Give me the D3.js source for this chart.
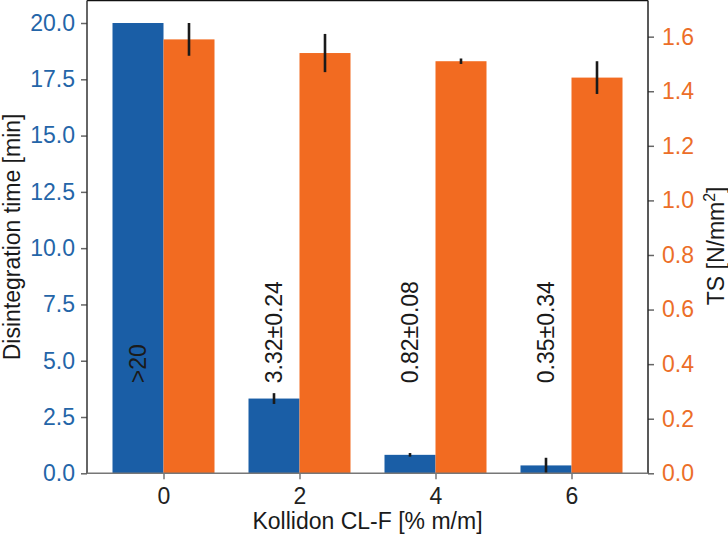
<!DOCTYPE html>
<html><head><meta charset="utf-8">
<script src="https://cdn.jsdelivr.net/npm/d3@7"></script>
<style>
html,body{margin:0;padding:0;background:#fff;}
text{font-family:"Liberation Sans",Arial,sans-serif;}
</style></head>
<body><svg id="c" width="728" height="538"></svg>
<script>
const categories = [0, 2, 4, 6];
const disintegration = [20, 3.32, 0.82, 0.35];
const disintegrationErr = [0, 0.24, 0.08, 0.34];
const annotations = [">20", "3.32±0.24", "0.82±0.08", "0.35±0.34"];
const tensile = [1.59, 1.54, 1.51, 1.45];
const tensileErr = [0.06, 0.07, 0.01, 0.06];
const leftTicks = [0, 2.5, 5, 7.5, 10, 12.5, 15, 17.5, 20];
const rightTicks = [0, 0.2, 0.4, 0.6, 0.8, 1.0, 1.2, 1.4, 1.6];
const xTicks = [0, 2, 4, 6];

const BLUE = "#1a5ea6", ORANGE = "#f26b21";
const L = 87, R = 648, T = 0.5, B = 473.3;
const barW = 0.75;
const svg = d3.select("#c");
const fs = 23;

const x = d3.scaleLinear().domain([-1.125, 7.125]).range([L, R]);
const yL = d3.scaleLinear().domain([0, 21]).range([B, T]);
const yR = d3.scaleLinear().domain([0, 1.05 * d3.max(tensile.map((v, i) => v + tensileErr[i]))]).range([B, T]);

// bars
const g = svg.append("g");
g.selectAll("rect.b").data(categories).join("rect")
  .attr("x", (d) => x(d - barW)).attr("width", (d) => x(d) - x(d - barW))
  .attr("y", (d, i) => yL(disintegration[i])).attr("height", (d, i) => B - yL(disintegration[i]))
  .attr("fill", BLUE);
g.selectAll("rect.o").data(categories).join("rect")
  .attr("x", (d) => x(d)).attr("width", (d) => x(d + barW) - x(d))
  .attr("y", (d, i) => yR(tensile[i])).attr("height", (d, i) => B - yR(tensile[i]))
  .attr("fill", ORANGE);

// error bars
g.selectAll("line.eb").data(categories).join("line")
  .filter((d, i) => disintegrationErr[i] > 0)
  .attr("x1", (d) => x(d - barW / 2)).attr("x2", (d) => x(d - barW / 2))
  .attr("y1", (d) => yL(disintegration[categories.indexOf(d)] - disintegrationErr[categories.indexOf(d)]))
  .attr("y2", (d) => yL(disintegration[categories.indexOf(d)] + disintegrationErr[categories.indexOf(d)]))
  .attr("stroke", "#1a1a1a").attr("stroke-width", 2.6);
g.selectAll("line.eo").data(categories).join("line")
  .attr("x1", (d) => x(d + barW / 2)).attr("x2", (d) => x(d + barW / 2))
  .attr("y1", (d, i) => yR(tensile[i] - tensileErr[i]))
  .attr("y2", (d, i) => yR(tensile[i] + tensileErr[i]))
  .attr("stroke", "#1a1a1a").attr("stroke-width", 2.6);

// annotations
g.selectAll("text.ann").data(categories).join("text")
  .attr("transform", (d) => `translate(${x(d - barW / 2)},${yL(4)}) rotate(-90)`)
  .attr("dy", "0.35em").attr("text-anchor", "start")
  .attr("font-size", fs).attr("fill", "#1a1a1a")
  .text((d, i) => annotations[i]);

// axes
const ax = svg.append("g").attr("transform", `translate(0,${B})`)
  .call(d3.axisBottom(x).tickValues(xTicks).tickSize(6).tickPadding(8).tickFormat(d3.format("d")));
ax.select(".domain").remove();
ax.selectAll("line").attr("stroke", "#777").attr("stroke-width", 1.5);
ax.selectAll("text").attr("font-size", fs).attr("fill", "#222").attr("font-family", "Liberation Sans, Arial, sans-serif");

const al = svg.append("g").attr("transform", `translate(${L},0)`)
  .call(d3.axisLeft(yL).tickValues(leftTicks).tickSize(6).tickPadding(6).tickFormat(d3.format(".1f")));
al.select(".domain").remove();
al.selectAll("line").attr("stroke", "#666").attr("stroke-width", 1.5);
al.selectAll("text").attr("font-size", fs).attr("fill", "#2465a8").attr("font-family", "Liberation Sans, Arial, sans-serif");

const ar = svg.append("g").attr("transform", `translate(${R},0)`)
  .call(d3.axisRight(yR).tickValues(rightTicks).tickSize(6).tickPadding(8).tickFormat(d3.format(".1f")));
ar.select(".domain").remove();
ar.selectAll("line").attr("stroke", "#666").attr("stroke-width", 1.5);
ar.selectAll("text").attr("font-size", fs).attr("fill", "#ec6e28").attr("font-family", "Liberation Sans, Arial, sans-serif");

// spines
svg.append("line").attr("x1", L).attr("x2", R).attr("y1", T).attr("y2", T).attr("stroke", "#111").attr("stroke-width", 1.5);
svg.append("line").attr("x1", L).attr("x2", L).attr("y1", T).attr("y2", B).attr("stroke", "#333").attr("stroke-width", 1.5);
svg.append("line").attr("x1", R).attr("x2", R).attr("y1", T).attr("y2", B).attr("stroke", "#222").attr("stroke-width", 1.5);
svg.append("line").attr("x1", L).attr("x2", R).attr("y1", B).attr("y2", B).attr("stroke", "#777").attr("stroke-width", 1.5);

// axis labels
svg.append("text").attr("transform", `translate(20,${(T + B) / 2}) rotate(-90)`)
  .attr("text-anchor", "middle").attr("font-size", fs).attr("fill", "#1a1a1a")
  .text("Disintegration time [min]");
const rl = svg.append("text").attr("transform", `translate(724,${(T + B) / 2 + 9}) rotate(-90)`)
  .attr("text-anchor", "middle").attr("font-size", fs).attr("fill", "#1a1a1a");
rl.append("tspan").text("TS [N/mm");
rl.append("tspan").attr("font-size", 16).attr("dy", "-0.55em").text("2");
rl.append("tspan").attr("dy", "0.38em").text("]");
svg.append("text").attr("x", (L + R) / 2).attr("y", 529)
  .attr("text-anchor", "middle").attr("font-size", fs).attr("fill", "#1a1a1a")
  .text("Kollidon CL-F [% m/m]");
</script></body></html>
